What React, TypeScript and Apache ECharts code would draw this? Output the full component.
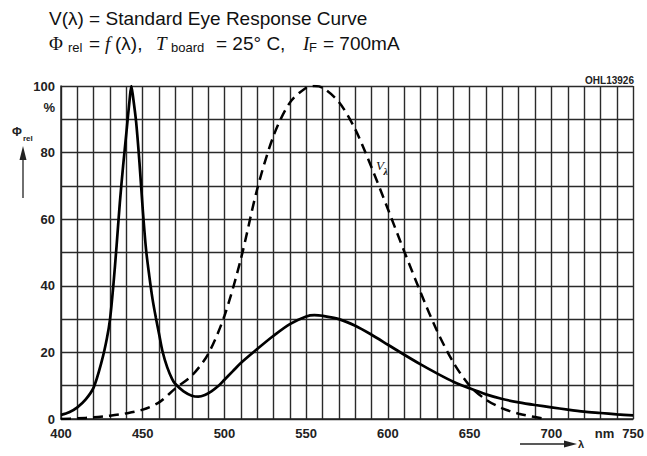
import { useEffect, useRef } from 'react';
import * as echarts from 'echarts';

// LED relative spectral emission (solid)
const solidNm = [400, 405, 410, 415, 420, 425, 428, 430, 432, 434, 436, 438, 440, 442, 443, 444, 446, 448, 450, 452, 454, 456, 458, 460, 462, 465, 468, 470, 475, 480, 484, 488, 492, 496, 500, 505, 510, 520, 530, 540, 550, 555, 560, 570, 580, 590, 600, 610, 620, 630, 640, 650, 660, 670, 680, 690, 700, 710, 720, 730, 740, 750];
const solidRel = [1.2, 2, 3.5, 5.8, 9.5, 17.5, 24, 30, 40, 52, 65, 76, 86, 96, 100, 97, 89, 77, 63, 51, 43, 36, 30.5, 25.5, 20.5, 15.5, 12, 10.5, 8.3, 7, 6.7, 7.2, 8.3, 9.8, 11.8, 14.3, 16.8, 21, 25, 28.5, 30.8, 31.2, 31, 30, 28, 25.3, 22.3, 19.3, 16.4, 13.7, 11.2, 9.2, 7.4, 6, 5, 4.2, 3.5, 2.8, 2.2, 1.8, 1.4, 1.1];

// Standard eye response curve V(lambda) (dashed)
const eyeNm = [400, 410, 420, 430, 440, 450, 460, 470, 480, 490, 500, 510, 520, 530, 540, 550, 555, 560, 570, 580, 590, 600, 610, 620, 630, 640, 650, 660, 670, 680, 690, 697];
const eyeRel = [0, 0.2, 0.5, 1.0, 1.7, 2.8, 5, 9.2, 13, 19.5, 31, 48, 69, 85, 95, 99.5, 100, 99.5, 95.2, 87, 75.5, 63, 50.3, 38, 26.5, 17, 10, 5.8, 3.2, 1.6, 0.6, 0];

const xTickLabels = [400, 450, 500, 550, 600, 650, 700, 750];
const yTickLabels = [0, 20, 40, 60, 80, 100];

const sans = "'Liberation Sans', Arial, Helvetica, sans-serif";
const serif = "'Liberation Serif', 'Times New Roman', serif";

function txt(x: number, y: number, text: string, opts: any = {}) {
  return {
    type: 'text',
    x,
    y,
    silent: true,
    style: {
      text,
      fill: '#111',
      fontFamily: sans,
      fontSize: 19,
      align: 'left',
      verticalAlign: 'middle',
      ...opts,
    },
  };
}

export default function App() {
  const ref = useRef<HTMLDivElement>(null);
  useEffect(() => {
    const chart = echarts.init(ref.current!, null, { renderer: 'svg' });
    chart.setOption({
      animation: false,
      backgroundColor: '#ffffff',
      grid: { left: 61, right: 13, top: 86, bottom: 37, show: false },
      xAxis: {
        type: 'value',
        min: 400,
        max: 750,
        interval: 10,
        axisLine: { show: true, lineStyle: { color: '#222', width: 1.5 } },
        axisTick: { show: false },
        splitLine: { show: true, lineStyle: { color: '#2a2a2a', width: 1.4 } },
        axisLabel: {
          margin: 8,
          color: '#222',
          fontFamily: sans,
          fontWeight: 'bold',
          fontSize: 13,
          showMinLabel: true,
          showMaxLabel: true,
          formatter: (v: number) => (xTickLabels.includes(v) ? String(v) : ''),
        },
      },
      yAxis: {
        type: 'value',
        min: 0,
        max: 100,
        interval: 10,
        axisLine: { show: true, lineStyle: { color: '#222', width: 1.5 } },
        axisTick: { show: false },
        splitLine: { show: true, lineStyle: { color: '#2a2a2a', width: 1.4 } },
        axisLabel: {
          margin: 6,
          color: '#222',
          fontFamily: sans,
          fontWeight: 'bold',
          fontSize: 13,
          showMinLabel: true,
          showMaxLabel: true,
          formatter: (v: number) => (yTickLabels.includes(v) ? String(v) : ''),
        },
      },
      series: [
        {
          type: 'line',
          name: 'LED',
          data: solidNm.map((x, i) => [x, solidRel[i]]),
          symbol: 'none',
          smooth: 0.3,
          lineStyle: { color: '#000', width: 2.7 },
          z: 4,
        },
        {
          type: 'line',
          name: 'V',
          data: eyeNm.map((x, i) => [x, eyeRel[i]]),
          symbol: 'none',
          smooth: 0.3,
          lineStyle: { color: '#000', width: 2.5, type: [10, 6] },
          z: 3,
        },
      ],
      graphic: [
        txt(49, 18.4, 'V(λ) = Standard Eye Response Curve'),
        txt(49, 43.4, 'Φ', { fontFamily: serif }),
        txt(68, 47.5, 'rel', { fontSize: 13 }),
        txt(89, 43.4, '='),
        txt(105, 43.4, 'f', { fontFamily: serif, fontStyle: 'italic' }),
        txt(115, 43.4, '(λ),'),
        txt(156, 43.4, 'T', { fontFamily: serif, fontStyle: 'italic' }),
        txt(171, 47.5, 'board', { fontSize: 13 }),
        txt(216, 43.4, '= 25° C,'),
        txt(303, 43.4, 'I', { fontFamily: serif, fontStyle: 'italic' }),
        txt(309, 47.5, 'F', { fontSize: 13 }),
        txt(323, 43.4, '= 700mA'),
        txt(634, 80, 'OHL13926', { fontSize: 10, fontWeight: 'bold', align: 'right', fill: '#222' }),
        txt(55, 107, '%', { fontSize: 13, fontWeight: 'bold', align: 'right', fill: '#222' }),
        txt(12, 132, 'Φ', { fontSize: 12, fontWeight: 'bold', fill: '#222' }),
        txt(23, 138, 'rel', { fontSize: 8, fontWeight: 'bold', fill: '#222' }),
        {
          type: 'line',
          silent: true,
          shape: { x1: 23, y1: 198, x2: 23, y2: 158 },
          style: { stroke: '#222', lineWidth: 1.3 },
        },
        {
          type: 'polygon',
          silent: true,
          shape: { points: [[19.5, 160], [26.5, 160], [23, 146]] },
          style: { fill: '#222' },
        },
        txt(604.5, 433, 'nm', { fontSize: 13, fontWeight: 'bold', align: 'center', fill: '#222' }),
        {
          type: 'line',
          silent: true,
          shape: { x1: 520, y1: 444, x2: 566, y2: 444 },
          style: { stroke: '#222', lineWidth: 1.3 },
        },
        {
          type: 'polygon',
          silent: true,
          shape: { points: [[564, 440.5], [564, 447.5], [577, 444]] },
          style: { fill: '#222' },
        },
        txt(578, 444, 'λ', { fontSize: 11, fontWeight: 'bold', fill: '#222' }),
        txt(376, 165.5, 'V', { fontFamily: serif, fontStyle: 'italic', fontSize: 13, fill: '#111' }),
        txt(383.5, 171, 'λ', { fontFamily: serif, fontStyle: 'italic', fontWeight: 'bold', fontSize: 10, fill: '#111' }),
      ],
    });
    return () => chart.dispose();
  }, []);
  return (
    <div
      ref={ref}
      style={{ position: 'absolute', left: 0, top: 0, width: 647, height: 456 }}
    />
  );
}
